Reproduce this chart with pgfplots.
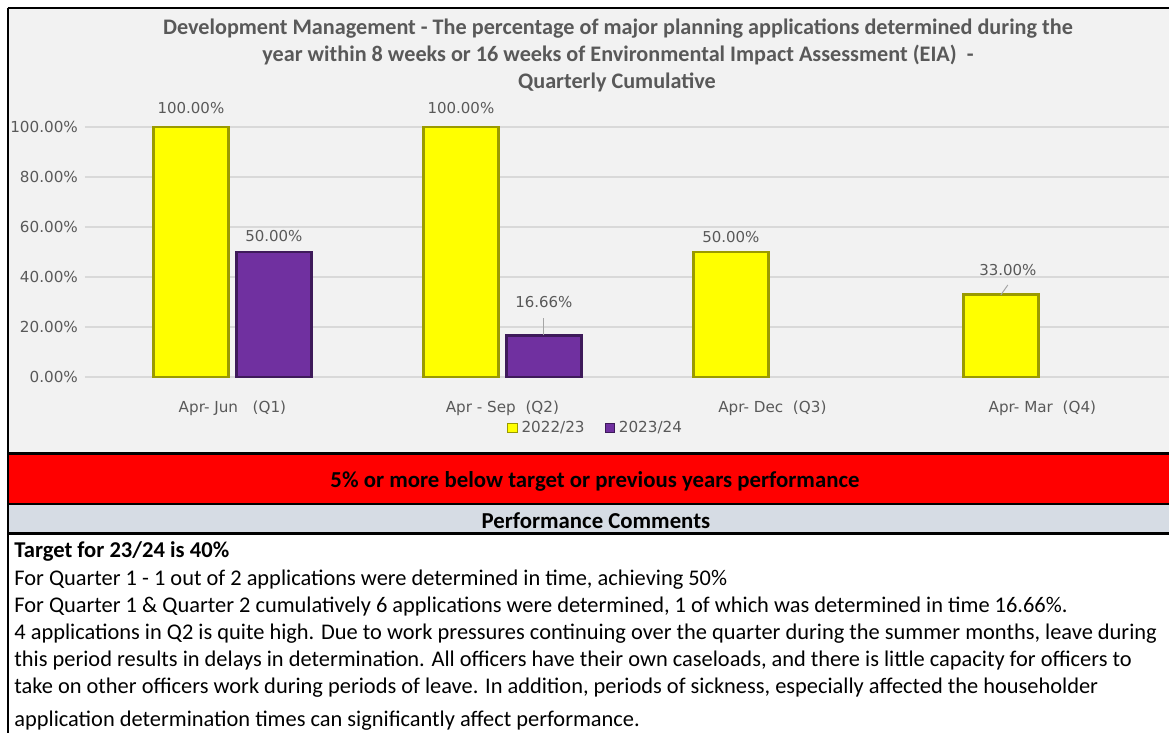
\documentclass[border=0pt]{standalone}
\usepackage{pgfplots}
\usepackage{pgfplotstable}
\pgfplotsset{compat=1.18}
\usepackage{fontspec}
\setmainfont{Carlito}
\newfontfamily\dv{DejaVu Sans}
\definecolor{bgc}{HTML}{F2F2F2}
\definecolor{gridc}{HTML}{D9D9D9}
\definecolor{txtc}{HTML}{595959}
\definecolor{yel}{HTML}{FFFF00}
\definecolor{yeledge}{HTML}{9A9A00}
\definecolor{pur}{HTML}{7030A0}
\definecolor{puredge}{HTML}{3E1A5A}
\definecolor{redband}{HTML}{FF0000}
\definecolor{greyband}{HTML}{D6DCE4}

\pgfplotstableread{
x y dy dx
0 100 9.5 0
1 100 9.5 0
2 50 7.5 0
3 33 12 3.5
}\yellowdata
\pgfplotstableread{
x y dy dx
0 50 8 0
1 16.66 16.5 0
}\purpledata

\begin{document}
\begin{tikzpicture}
\useasboundingbox (0,0) rectangle (584.5pt,-366.5pt);
\clip (0,0) rectangle (584.5pt,-366.5pt);
\begin{scope}[x=0.5pt,y=-0.5pt]
\fill[white] (0,0) rectangle (1169,733);
\fill[bgc] (8,9) rectangle (1169,452);
\fill[redband] (8,455) rectangle (1169,503);
\fill[greyband] (8,505) rectangle (1169,532);
\end{scope}

\begin{axis}[
  at={(42.5pt,-188.5pt)}, anchor=south west, scale only axis,
  width=542pt, height=125pt,
  xmin=-0.546, xmax=3.469, ymin=0, ymax=100,
  ybar=4pt, bar width=37.5pt,
  axis line style={draw=none}, tick style={draw=none},
  ymajorgrids, grid style={gridc, line width=0.6pt},
  ytick={0,20,40,60,80,100},
  yticklabel={\pgfmathprintnumber[fixed,fixed zerofill,precision=2]{\tick}\%},
  xtick={0,1,2,3},
  xticklabels={{Apr-\ Jun\ \ \ (Q1)},{Apr - Sep\ \ (Q2)},{Apr-\ Dec\ \ (Q3)},{Apr-\ Mar\ \ (Q4)}},
  xticklabel style={yshift=-4pt},
  yticklabel style={xshift=0pt},
  ticklabel style={font=\dv\fontsize{7.6}{9}\selectfont, text=txtc},
  /pgf/number format/assume math mode=true,
  clip=false,
  legend style={at={(0.472,-0.204)}, anchor=center, draw=none, fill=none,
    legend columns=2, font=\dv\fontsize{7.6}{9}\selectfont, text=txtc,
    /tikz/every even column/.append style={column sep=8pt}},
  legend image code/.code={\draw[#1,line width=0.5pt] (0pt,-2.3pt) rectangle (4.6pt,2.3pt);},
]
\addplot[fill=yel, draw=yeledge, line width=1.2pt,
  nodes near coords={\pgfmathprintnumber[fixed,fixed zerofill,precision=2]{\pgfplotspointmeta}\%},
  visualization depends on={\thisrow{dy} \as \dy},
  visualization depends on={\thisrow{dx} \as \dx},
  every node near coord/.append style={anchor=center, yshift=\dy*1pt, xshift=\dx*1pt,
    font=\dv\fontsize{7.5}{9}\selectfont, text=txtc}]
  table[x=x,y=y]{\yellowdata};
\addlegendentry{2022/23}
\addplot[fill=pur, draw=puredge, line width=1.2pt,
  nodes near coords={\pgfmathprintnumber[fixed,fixed zerofill,precision=2]{\pgfplotspointmeta}\%},
  visualization depends on={\thisrow{dy} \as \dy},
  visualization depends on={\thisrow{dx} \as \dx},
  every node near coord/.append style={anchor=center, yshift=\dy*1pt, xshift=\dx*1pt,
    font=\dv\fontsize{7.5}{9}\selectfont, text=txtc}]
  table[x=x,y=y]{\purpledata};
\addlegendentry{2023/24}
\draw[gray!70, line width=0.5pt] (axis cs:1.1537,16.66) -- (axis cs:1.1537,23.6);
\draw[gray!70, line width=0.5pt] (axis cs:2.846,32.8) -- (axis cs:2.872,36.8);
\end{axis}

\begin{scope}[x=0.5pt,y=-0.5pt]
\draw[black,line width=1pt] (7.5,8.5)--(1169,8.5);
\draw[black,line width=1pt] (7.5,8.5)--(7.5,733);
\draw[black,line width=1.5pt] (7.5,453.5)--(1169,453.5);
\draw[black,line width=1pt] (7.5,504)--(1169,504);
\draw[black,line width=1.5pt] (7.5,533.5)--(1169,533.5);

\begin{scope}[every node/.style={font=\bfseries\fontsize{11.1}{13}\selectfont, text=txtc, inner sep=0pt, anchor=base}]
\node at (618,35) {Development Management - The percentage of major planning applications determined during the};
\node at (618,62) {year within 8 weeks or 16 weeks of Environmental Impact Assessment (EIA)\ \ -};
\node at (617,89) {Quarterly Cumulative};
\end{scope}
\node[font=\bfseries\fontsize{11.4}{13}\selectfont, text=black, inner sep=0pt, anchor=base] at (595,487) {5\% or more below target or previous years performance};
\node[font=\bfseries\fontsize{11.4}{13}\selectfont, text=black, inner sep=0pt, anchor=base] at (596,528) {Performance Comments};
\begin{scope}[every node/.style={font=\fontsize{11.2}{13}\selectfont, text=black, inner sep=0pt, anchor=base west}]
\node[font=\bfseries\fontsize{11.3}{13}\selectfont] at (14,557) {Target for 23/24 is 40\%};
\node at (14,585) {For Quarter 1 - 1 out of 2 applications were determined in time, achieving 50\%};
\node at (14,612) {For Quarter 1 \& Quarter 2 cumulatively 6 applications were determined, 1 of which was determined in time 16.66\%.};
\node at (14,639) {4 applications in Q2 is quite high. Due to work pressures continuing over the quarter during the summer months, leave during};
\node at (14,666) {this period results in delays in determination. All officers have their own caseloads, and there is little capacity for officers to};
\node at (14,693) {take on other officers work during periods of leave. In addition, periods of sickness, especially affected the householder};
\node at (14,726) {application determination times can significantly affect performance.};
\end{scope}
\end{scope}
\end{tikzpicture}
\end{document}
